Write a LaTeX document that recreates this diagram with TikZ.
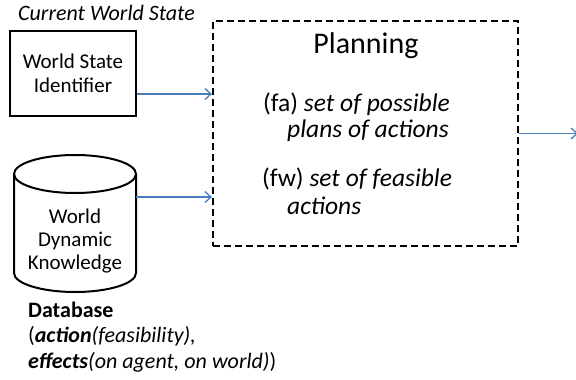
\documentclass[tikz,border=0pt]{standalone}
\usepackage{fontspec}
\setmainfont{Carlito}
\usetikzlibrary{positioning}
\usetikzlibrary{shapes.geometric}
\usetikzlibrary{arrows.meta}
\definecolor{linkblue}{RGB}{74,126,187}

\begin{document}
\begin{tikzpicture}[x=1pt,y=-1pt,
    box/.style={draw, line width=2pt, align=center, inner sep=0pt},
    link/.style={draw=linkblue, line width=1.3pt, -{Straight Barb[length=6pt,width=11pt]}},
    txt/.style={font=\fontsize{22}{25}\selectfont, anchor=base west, inner sep=0pt},
    item/.style={txt, font=\fontsize{25.5}{28}\selectfont}]
    \useasboundingbox (0,0) rectangle (576,380);

    % Inputs
    \node[txt, font=\fontsize{22}{25}\selectfont\itshape] (cws) at (18,20) {Current World State};
    \node[box, minimum width=126, minimum height=85, font=\fontsize{21}{23.5}\selectfont] (wsi) at (73,73.5) {World State\\Identifier};

    % Database cylinder
    \draw[line width=2pt] (75,174) ellipse[x radius=61, y radius=19];
    \draw[line width=2pt] (14,174) -- (14,273) arc[start angle=180, end angle=0, x radius=61, y radius=19] -- (136,174);
    \node[align=center, inner sep=0pt, minimum width=122, font=\fontsize{21}{23}\selectfont] (wdk) at (75,241) {World\\Dynamic\\Knowledge};

    % Database description
    \node[txt, font=\fontsize{22}{25}\selectfont\bfseries] (dbase) at (28,317) {Database};
    \node[txt] (dact) at (28,342) {(\textbf{\textit{action}}\textit{(feasibility),}};
    \node[txt] (deff) at (28,368) {\textbf{\textit{effects}}\textit{(on agent, on world)})};

    % Planning block
    \node[box, line width=2.2pt, dash pattern=on 7pt off 4pt, minimum width=305, minimum height=225] (plan) at (365.5,133.5) {};
    \node[font=\fontsize{30}{32}\selectfont, anchor=base, inner sep=0pt] (ptitle) at (366,53) {Planning};
    \node[item] (fa) at (263,111) {(fa) \textit{set of possible}};
    \node[item] (fa2) at (287,137) {\textit{plans of actions}};
    \node[item] (fw) at (262,186) {(fw) \textit{set of feasible}};
    \node[item] (fw2) at (287,214) {\textit{actions}};

    % Arrows
    \coordinate (out) at (578,134);
    \draw[link] ([yshift=-20.5pt]wsi.east) -- ([yshift=-20.5pt]wsi.east -| plan.west);
    \draw[link] ([yshift=44pt]wdk.east) -- ([yshift=44pt]wdk.east -| plan.west);
    \draw[link] (plan.east) -- (plan.east -| out);
\end{tikzpicture}
\end{document}
